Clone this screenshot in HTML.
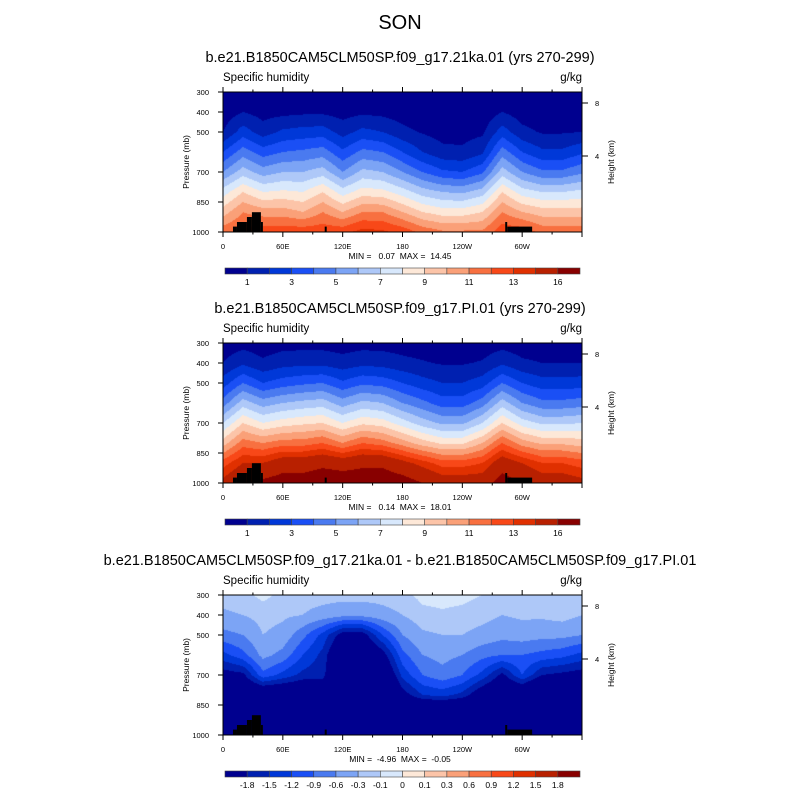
<!DOCTYPE html>
<html><head><meta charset="utf-8"><style>
body{margin:0;background:#fff;width:800px;height:800px;position:relative;overflow:hidden;font-family:"Liberation Sans",sans-serif}
canvas{position:absolute}
svg{position:absolute;left:0;top:0}
</style></head><body>
<canvas id="c0" width="359" height="140" style="left:223px;top:92px"></canvas>
<canvas id="c1" width="359" height="140" style="left:223px;top:343px"></canvas>
<canvas id="c2" width="359" height="140" style="left:223px;top:595px"></canvas>
<svg id="s" width="800" height="800"></svg>
<script>
const lons=[0,20,40,60,80,100,120,140,160,180,200,220,240,260,280,300,320,340,360];
const pres=[300,400,500,600,700,800,900,1000];
const q21ka=[[0.2,0.4,1.0,3,5,7.5,9.5,11.7],[0.3,1.0,2.5,4.5,6.5,9,11,12.2],[0.2,0.6,1.5,3.5,5.5,8,10.5,12.7],[0.3,0.7,2.2,4,6,8.2,10.5,12.7],[0.3,0.8,2.4,4.2,6,8,10,12.7],[0.3,0.8,2.5,4.5,6.5,9,11,12.7],[0.2,0.6,1.6,3.2,5,7.5,10,12.7],[0.3,0.8,2.3,4.3,6.3,8.5,11,13.4],[0.3,0.7,2,4,6,8.3,11,13.2],[0.2,0.5,1.3,3,5,7.5,10,12.7],[0.1,0.3,0.9,2,4,6.5,9,11.7],[0.1,0.2,0.6,1.3,3.2,6,8.5,11.2],[0.1,0.2,0.6,1.2,3,5.8,8.5,11.2],[0.1,0.3,0.8,1.8,3.8,6.5,9,11.2],[0.3,1.0,2.5,4.5,6.5,9,11,12.7],[0.2,0.5,1.3,3,5,7.5,10,12.7],[0.1,0.3,0.9,2.2,4.2,7,9.5,11.7],[0.1,0.3,0.9,2.2,4.2,7,9.5,11.7],[0.2,0.4,1.0,2.8,4.8,7.3,9.5,11.7]];
const qPI=[[0.4,1.0,2.5,4.5,7,9.5,12.5,14.5],[0.6,1.8,4,6.5,9,11.5,14,16],[0.4,1.2,3,5.5,8,11,14,16.5],[0.6,1.6,3.5,6,8.5,11.5,15,17],[0.6,1.7,3.8,6.3,8.8,11.5,15,17],[0.6,1.7,4,6.5,9,12,15.5,17.5],[0.5,1.4,3.2,5.5,8,11,15,17.5],[0.6,1.7,3.8,6.3,8.8,12,15.5,17.5],[0.6,1.6,3.6,6,8.5,11.5,15.5,17.5],[0.5,1.3,3,5,7.5,10.5,14.5,17],[0.4,1.1,2.4,4.3,6.5,9.5,13.5,16],[0.3,0.9,2,3.5,5.8,8.8,12.5,15],[0.3,0.9,2,3.5,5.8,8.8,12.5,15],[0.4,1.1,2.5,4.5,7,10,13,15],[0.6,1.8,4,6.5,9,12,15,17],[0.4,1.2,3,5,7.5,10.5,14,16],[0.3,1.0,2.4,4.3,6.8,9.8,13,15],[0.3,1.0,2.4,4.3,6.8,9.8,13,15],[0.4,1.0,2.5,4.5,7,9.5,12.5,14.5]];
const qDiff=[[-0.2,-0.35,-0.7,-1.3,-2.0,-2.5,-3,-3],[-0.15,-0.3,-0.6,-1.0,-1.9,-2.5,-3,-3],[-0.05,-0.2,-0.3,-0.5,-1.0,-2.5,-3,-3],[-0.15,-0.25,-0.4,-0.7,-1.3,-2.5,-3,-3],[-0.2,-0.3,-0.8,-1.2,-1.6,-2.5,-3,-3],[-0.2,-0.4,-1.3,-1.6,-1.7,-2.2,-3,-3],[-0.2,-0.5,-2,-2.5,-2.5,-3,-3,-3],[-0.2,-0.5,-2,-2.5,-2.5,-3,-3,-3],[-0.2,-0.4,-1.2,-2,-2.5,-3,-3,-3],[-0.15,-0.3,-0.6,-1.0,-1.4,-2.0,-3,-3],[-0.05,-0.15,-0.35,-0.6,-0.9,-1.5,-3,-3],[-0.05,-0.12,-0.3,-0.5,-0.7,-1.4,-3,-3],[-0.05,-0.15,-0.3,-0.6,-0.9,-1.6,-3,-3],[-0.1,-0.2,-0.4,-0.8,-1.3,-2.2,-3,-3],[-0.15,-0.3,-0.5,-0.9,-1.9,-2.5,-3,-3],[-0.15,-0.25,-0.45,-0.9,-1.2,-2.5,-3,-3],[-0.15,-0.25,-0.5,-1.0,-1.8,-3,-3,-3],[-0.1,-0.2,-0.5,-1.1,-1.9,-3,-3,-3],[-0.15,-0.3,-0.6,-1.3,-2.0,-3,-3,-3]];
const levelsQ=[1,2,3,4,5,6,7,8,9,10,11,12,13,14,16];
const levelsD=[-1.8,-1.5,-1.2,-0.9,-0.6,-0.3,-0.1,0,0.1,0.3,0.6,0.9,1.2,1.5,1.8];
const labelsQ=["1","","3","","5","","7","","9","","11","","13","","16"];
const labelsD=["-1.8","-1.5","-1.2","-0.9","-0.6","-0.3","-0.1","0","0.1","0.3","0.6","0.9","1.2","1.5","1.8"];
const colors=["#00008f","#0020b0","#0038d8","#1a4ff5","#4a7af0","#7ca4f5","#aec8f8","#d8e8fc","#fde8d8","#fcc4a8","#faa078","#f87040","#f84818","#e03000","#b82000","#880000"];
const topoLon0=[10,14,24,29,38,102,283,285];
const topoLon1=[14,24,29,38,40,104,285,310];
const topoP=[973,950,925,901,950,973,950,973];
const lonTicks=[0,60,120,180,240,300];
const lonLabels=["0","60E","120E","180","120W","60W"];
const pTicks=[300,400,500,700,850,1000];
const hTicks=[8,4];
const hTickP=[355,620];
const titles=["b.e21.B1850CAM5CLM50SP.f09_g17.21ka.01 (yrs 270-299)","b.e21.B1850CAM5CLM50SP.f09_g17.PI.01 (yrs 270-299)","b.e21.B1850CAM5CLM50SP.f09_g17.21ka.01 - b.e21.B1850CAM5CLM50SP.f09_g17.PI.01"];
const minmax=["MIN =   0.07  MAX =  14.45","MIN =   0.14  MAX =  18.01","MIN =  -4.96  MAX =  -0.05"];

const X0=223,W=359,H=140,tops=[92,343,595];
const xs=l=>X0+l/360*W;
const ys=(p,t)=>t+(p-300)/700*H;
function hex(c){return [1,3,5].map(i=>parseInt(c.substr(i,2),16));}
function interp(data,lon,p){
  let i=Math.min(Math.floor(lon/20),17),fx=(lon-lons[i])/20;
  let j=0;while(j<6&&p>pres[j+1])j++;
  let fy=(p-pres[j])/(pres[j+1]-pres[j]);
  const a=data[i][j]*(1-fy)+data[i][j+1]*fy, b=data[i+1][j]*(1-fy)+data[i+1][j+1]*fy;
  return a*(1-fx)+b*fx;
}
function drawField(id,data,levels){
  const cv=document.getElementById(id),ctx=cv.getContext('2d'),img=ctx.createImageData(W,H);
  const rgb=colors.map(hex);
  for(let y=0;y<H;y++)for(let x=0;x<W;x++){
    const v=interp(data,(x+0.5)/W*360,300+(y+0.5)/H*700);
    let k=0;while(k<levels.length&&v>=levels[k])k++;
    const o=(y*W+x)*4,c=rgb[k];img.data[o]=c[0];img.data[o+1]=c[1];img.data[o+2]=c[2];img.data[o+3]=255;
  }
  ctx.putImageData(img,0,0);
}
drawField('c0',q21ka,levelsQ);drawField('c1',qPI,levelsQ);drawField('c2',qDiff,levelsD);

const svg=document.getElementById('s'),NS="http://www.w3.org/2000/svg";
function el(tag,at,txt){const e=document.createElementNS(NS,tag);for(const k in at)e.setAttribute(k,at[k]);if(txt!==undefined)e.textContent=txt;svg.appendChild(e);return e;}
let t=el('text',{x:400,y:29,'font-size':20,'text-anchor':'middle'},'SON');


const lvls=[levelsQ,levelsQ,levelsD],labs=[labelsQ,labelsQ,labelsD];
tops.forEach((T,pi)=>{
  let e=el('text',{x:400,y:T-30,'font-size':14.5,'text-anchor':'middle'},titles[pi]);
  
  
  e=el('text',{x:X0,y:T-11,'font-size':11.5},'Specific humidity');
  
  
  e=el('text',{x:X0+W,y:T-11,'font-size':11.5,'text-anchor':'end'},'g/kg');
  
  
  topoP.forEach((p,i)=>{
    const r=el('rect',{x:xs(topoLon0[i]),y:ys(p,T),width:xs(topoLon1[i])-xs(topoLon0[i]),height:T+H-ys(p,T),fill:'#000'});
    
    
  });
  e=el('rect',{x:X0,y:T,width:W,height:H,fill:'none',stroke:'#000','stroke-width':1});
  
  
  for(let l=0;l<=360;l+=30){const L=l%60?2.5:5,x=xs(l);
    el('line',{x1:x,x2:x,y1:T,y2:T-L,stroke:'#000'});el('line',{x1:x,x2:x,y1:T+H,y2:T+H+L,stroke:'#000'});}
  lonTicks.forEach((l,i)=>{e=el('text',{x:xs(l),y:T+H+17,'font-size':7.5,'text-anchor':'middle'},lonLabels[i]);
    
    });
  pTicks.forEach(p=>{const y=ys(p,T);el('line',{x1:X0-5,x2:X0,y1:y,y2:y,stroke:'#000'});
    e=el('text',{x:X0-14,y:y+3,'font-size':7.5,'text-anchor':'end'},String(p));
    
    });
  hTicks.forEach((h,i)=>{const y=ys(hTickP[i],T);el('line',{x1:X0+W,x2:X0+W+6,y1:y,y2:y,stroke:'#000'});
    e=el('text',{x:X0+W+13,y:y+3,'font-size':7.5},String(h));
    
    });
  e=el('text',{x:0,y:0,'font-size':8.5,'text-anchor':'middle',transform:`translate(189,${T+H/2}) rotate(-90)`},'Pressure (mb)');
  
  
  e=el('text',{x:0,y:0,'font-size':8.5,'text-anchor':'middle',transform:`translate(614,${T+H/2}) rotate(-90)`},'Height (km)');
  
  
  e=el('text',{x:400,y:T+H+27,'font-size':8.5,'text-anchor':'middle',style:'white-space:pre'},minmax[pi]);
  
  
  const cy=T+176,bw=355/16;
  colors.forEach((c,i)=>{const r=el('rect',{x:225+i*bw,y:cy,width:bw,height:6,fill:c,stroke:'#444','stroke-width':0.6});
    
    });
  lvls[pi].forEach((v,i)=>{if(!labs[pi][i])return;
    e=el('text',{x:225+(i+1)*bw,y:cy+17,'font-size':8.5,'text-anchor':'middle'},labs[pi][i]);
    
    });
});
</script>
</body></html>
